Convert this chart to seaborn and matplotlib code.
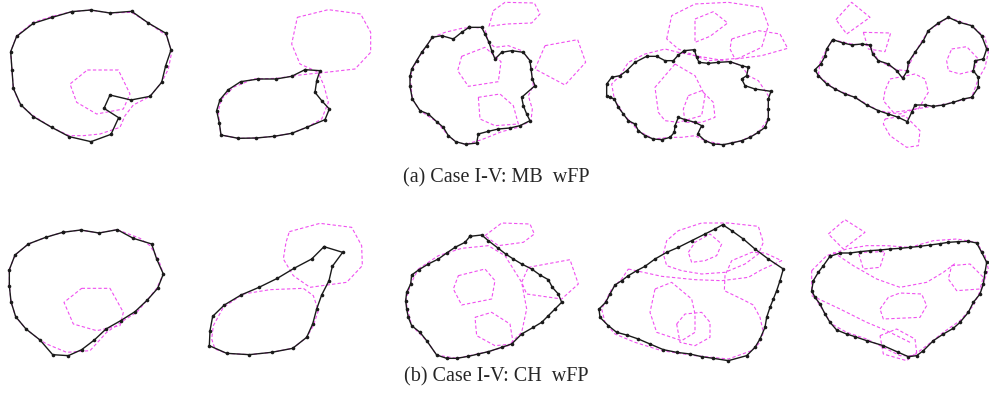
import matplotlib.pyplot as plt
import numpy as np
import pandas as pd
import seaborn as sns

# vertex data, in panel-local units (3 units = 1 px)
# ---- row (a): MB result ----
mb_1 = [(215,38),(272,33),(330,42),(395,37),(445,72),(498,103),(513,153),(497,200),(485,250),(450,292),
        (393,303),(330,288),(312,328),(356,356),(333,406),(273,428),(208,413),(155,385),(100,353),(62,317),
        (40,268),(36,213),(32,158),(50,112),(100,73),(157,55)]
mb_2 = [(315,212),(360,215),(350,245),(345,280),(365,305),(388,330),(375,362),(320,385),(275,403),(222,412),
        (168,417),(115,418),(63,408),(58,372),(50,335),(60,302),(85,272),(122,248),(175,240),(228,240),(275,232)]
mb_3 = [(222,85),(260,85),(270,105),(282,130),(290,155),(300,180),(320,160),(350,155),(385,160),(405,185),
        (408,210),(412,240),(420,260),(380,295),(385,320),(395,345),(405,365),(375,380),(345,387),(310,390),
        (280,397),(250,405),(245,432),(212,436),(182,428),(160,410),(145,385),(125,368),(100,345),(75,335),
        (52,300),(45,262),(45,232),(50,210),(65,185),(80,160),(95,140),(112,115),(140,110),(175,120),(200,100)]
mb_4 = [(268,155),(298,152),(305,175),(312,190),(340,193),(370,190),(405,188),(440,200),(460,205),(455,230),
        (440,240),(450,260),(480,270),(528,277),(520,300),(520,330),(520,360),(510,385),(490,400),(465,415),
        (440,425),(410,432),(385,437),(355,435),(330,425),(308,405),(320,380),(300,370),(270,362),(250,355),
        (240,380),(238,400),(225,415),(200,422),(175,420),(150,410),(130,395),(120,375),(100,365),(85,345),
        (70,325),(58,300),(45,295),(35,290),(35,255),(50,235),(75,230),(95,215),(120,190),(155,172),(185,172),
        (210,185),(235,185),(250,168)]
mb_5 = [(98,122),(130,132),(155,138),(185,135),(210,138),(218,165),(235,185),(265,195),(290,215),(308,238),
        (322,215),(325,190),(345,160),(370,125),(385,95),(415,72),(445,55),(478,70),(515,80),(545,110),
        (560,150),(550,180),(525,185),(520,215),(535,235),(535,265),(515,295),(490,300),(460,310),(430,318),
        (400,322),(375,318),(345,318),(335,340),(322,368),(295,355),(265,345),(235,335),(200,318),(165,295),
        (135,285),(105,270),(80,255),(55,230),(45,212),(62,195),(75,172),(80,150)]

# ---- row (b): CH result ----
ch_1 = [(188,100),(242,93),(297,102),(352,92),(400,118),(455,135),(470,180),(490,225),(473,268),(442,303),
        (405,338),(362,365),(318,390),(283,423),(245,452),(205,470),(158,467),(120,423),(78,390),(47,353),
        (33,308),(28,260),(28,212),(45,168),(85,135),(137,115)]
ch_2 = [(372,143),(428,160),(397,202),(387,245),(365,288),(350,330),(338,375),(320,415),(278,448),(215,460),
        (148,467),(80,463),(28,440),(30,395),(38,352),(73,318),(123,288),(177,265),(232,238),(282,208),(335,180)]
ch_3 = [(225,112),(260,108),(280,125),(310,148),(332,165),(355,180),(380,195),(410,210),(435,228),(460,242),
        (472,265),(490,285),(500,310),(480,330),(460,350),(440,370),(415,385),(380,405),(350,435),(320,445),
        (280,458),(250,465),(220,472),(185,478),(155,478),(125,468),(95,425),(75,400),(50,380),(40,355),
        (35,330),(32,305),(35,280),(47,255),(50,228),(72,212),(100,195),(130,180),(155,162),(180,145),(210,130)]
ch_4 = [(383,77),(410,95),(445,120),(480,150),(520,180),(565,210),(555,245),(545,275),(535,300),(525,325),
        (515,355),(510,385),(495,420),(480,445),(455,470),(400,485),(355,478),(320,473),(285,465),(245,460),
        (205,452),(165,435),(130,420),(95,408),(65,400),(40,380),(15,355),(12,330),(32,310),(45,285),(60,258),
        (80,245),(100,230),(125,215),(150,202),(180,180),(215,160),(250,145),(290,125),(330,105),(360,90)]
ch_5 = [(90,172),(120,162),(150,162),(180,158),(210,155),(240,153),(270,150),(300,148),(330,145),(360,142),
        (390,138),(420,134),(445,130),(475,128),(505,127),(530,132),(545,160),(560,190),(555,220),(550,255),
        (540,285),(520,310),(505,340),(480,370),(460,388),(430,405),(400,425),(370,455),(350,470),(325,473),
        (295,460),(250,440),(200,425),(165,413),(140,405),(110,393),(90,370),(75,345),(60,315),(45,295),
        (35,275),(40,245),(55,220),(70,200)]

# ---- ground truth outlines (magenta) ----
gt_a1 = [
    [(215,38),(272,33),(330,42),(395,40),(445,72),(500,110),(515,160),(505,210),(485,250),(450,292),(400,318),
     (375,350),(360,385),(300,405),(250,410),(208,410),(155,385),(100,350),(60,317),(40,268),(36,213),(32,158),
     (50,110),(100,70),(157,52)],
    [(262,213),(355,213),(390,285),(370,330),(290,345),(230,310),(210,255)]]
gt_a2 = [
    [(292,55),(385,32),(482,45),(512,100),(512,160),(465,210),(360,222),(300,195),(275,135)],
    [(65,300),(100,265),(160,240),(230,238),(300,228),(355,222),(372,260),(385,310),(365,360),(320,385),
     (275,403),(222,412),(168,417),(115,418),(63,408),(58,372),(55,335)]]
gt_a3 = [
    [(295,35),(330,10),(418,12),(435,45),(410,72),(335,75),(282,82)],
    [(450,140),(548,122),(572,190),(510,258),(420,210)],
    [(200,172),(270,145),(318,188),(310,248),(220,262),(188,215)],
    [(250,295),(315,285),(355,320),(370,375),(300,380),(255,360)],
    [(112,115),(150,100),(200,88),(240,85),(270,90),(280,130),(300,145),(340,140),(380,155),(405,185),
     (415,260),(400,290),(412,330),(408,365),(370,385),(320,398),(260,422),(212,436),(182,428),(160,410),
     (125,368),(75,335),(52,300),(45,232),(65,185),(95,140)]]
gt_a4 = [
    [(215,120),(230,50),(300,15),(400,10),(500,25),(520,80),(500,145),(430,178),(340,185),(300,170),(250,150)],
    [(300,60),(355,38),(398,72),(345,112),(300,130)],
    [(410,120),(490,95),(555,105),(578,148),(500,170),(420,180),(405,150)],
    [(240,195),(300,230),(330,290),(320,350),(250,370),(210,365),(190,340),(180,265)],
    [(280,290),(320,275),(355,310),(360,355),(320,370),(270,370),(265,330)],
    [(75,230),(100,190),(150,165),(210,150),(250,160),(300,170),(405,188),(440,200),(460,230),(490,245),
     (520,290),(520,360),(490,400),(440,425),(385,437),(330,425),(300,410),(260,415),(225,415),(175,420),
     (130,395),(85,345),(58,300),(50,255)]]
gt_a5 = [
    [(108,62),(155,10),(210,55),(140,105)],
    [(190,100),(272,102),(255,158),(205,150)],
    [(455,150),(500,143),(535,180),(520,215),(480,225),(445,215),(440,185)],
    [(270,240),(345,225),(375,240),(385,280),(355,330),(280,340),(250,305),(255,275)],
    [(255,360),(315,350),(360,395),(355,440),(320,445),(270,410),(250,375)],
    [(98,122),(155,135),(210,140),(235,185),(290,212),(320,215),(345,160),(385,95),(445,55),(515,80),
     (555,115),(565,160),(555,205),(535,240),(515,295),(460,310),(400,322),(345,330),(300,345),(235,335),
     (165,295),(105,270),(55,230),(60,190),(75,160)]]

gt_b1 = [
    [(188,100),(242,93),(297,102),(352,92),(420,118),(450,140),(475,180),(490,225),(470,268),(442,303),
     (410,340),(370,365),(320,400),(270,455),(200,460),(140,435),(120,423),(78,390),(47,353),(33,308),
     (28,260),(28,212),(45,168),(85,135),(137,115)],
    [(245,268),(330,268),(370,340),(360,380),(290,395),(220,375),(192,310)]]
gt_b2 = [
    [(268,98),(360,73),(455,85),(485,140),(487,200),(440,250),(330,265),(280,230),(250,180),(258,130)],
    [(40,380),(70,325),(130,285),(210,272),(310,268),(340,290),(355,335),(340,380),(320,415),(278,448),
     (215,460),(148,467),(80,463),(45,450),(35,420)]]
gt_b3 = [
    [(270,110),(320,72),(405,75),(418,105),(385,130),(310,140)],
    [(400,205),(525,182),(550,255),(500,300),(395,285),(380,250)],
    [(190,230),(270,210),(300,245),(290,300),(200,318),(175,270)],
    [(240,355),(290,340),(345,375),(355,435),(300,440),(245,410)],
    [(70,210),(130,170),(200,148),(280,140),(330,170),(380,250),(395,330),(380,400),(340,440),(280,458),
     (185,478),(125,468),(95,425),(50,380),(32,305),(47,255)]]
gt_b4 = [
    [(205,165),(215,125),(250,95),(320,72),(400,72),(490,82),(505,130),(490,165),(450,195),(390,220),
     (320,225),(260,215),(215,200)],
    [(280,160),(300,130),(345,105),(380,135),(365,170),(330,185),(290,190)],
    [(180,270),(230,250),(290,300),(300,345),(300,400),(260,425),(185,400),(165,340)],
    [(245,375),(270,345),(320,340),(345,370),(345,415),(300,440),(255,430)],
    [(100,210),(200,232),(300,242),(380,245),(460,235),(500,212),(560,185),(510,162),(470,160),(410,185),
     (390,230),(388,275),(440,300),(475,318),(495,355),(505,400),(495,430),(470,455),(400,480),(300,470),
     (200,455),(120,430),(60,405),(30,370),(20,330),(50,270),(80,240)]]
gt_b5 = [
    [(85,105),(135,62),(195,100),(130,150)],
    [(175,160),(255,158),(240,205),(190,210)],
    [(455,200),(510,195),(550,235),(540,270),(470,275),(445,240)],
    [(240,330),(265,295),(300,282),(365,285),(380,320),(360,355),(250,360)],
    [(240,410),(290,390),(345,420),(350,460),(320,485),(250,465)],
    [(35,215),(80,170),(140,150),(200,140),(260,140),(330,145),(400,125),(470,120),(530,130),(555,170),
     (565,210),(548,260),(520,320),(480,365),(430,400),(380,440),(340,470),(300,470),(250,445),(200,420),
     (140,400),(95,375),(60,320),(35,280)],
    [(100,160),(160,200),(230,240),(300,265),(380,250),(430,220),(470,190)],
    [(35,290),(120,330),(200,370),(260,395),(330,430)]]

captions = ["(a) Case I-V: MB  wFP", "(b) Case I-V: CH  wFP"]

# panel boxes in pixels (x, y, w, h) of the 989x402 canvas
W, H = 989, 402
boxes_a = [(0, 0, 190, 150), (200, 0, 190, 150), (395, 0, 200, 150), (595, 0, 200, 155), (800, 0, 189, 155)]
boxes_b = [(0, 200, 190, 165), (200, 200, 190, 165), (395, 200, 200, 165), (595, 200, 200, 165), (800, 200, 189, 165)]

sns.set_theme(style="white")
plt.rcParams['font.family'] = ['Liberation Serif', 'DejaVu Serif']
fig = plt.figure(figsize=(W / 100, H / 100), dpi=100)


def closed(pts):
    pts = list(pts) + [pts[0]]
    return pd.DataFrame(pts, columns=["x", "y"])


def draw_panel(box, result, truths, open_last=0):
    x, y, w, h = box
    ax = fig.add_axes([x / W, 1 - (y + h) / H, w / W, h / H])
    for i, poly in enumerate(truths):
        df = closed(poly)
        if i >= len(truths) - open_last:
            df = df.iloc[:-1]
        sns.lineplot(data=df, x="x", y="y", sort=False, estimator=None, ax=ax,
                     color="#f050f0", lw=0.8, dashes=False, linestyle=(0, (3, 2)))
    sns.lineplot(data=closed(result), x="x", y="y", sort=False, estimator=None, ax=ax,
                 color="#1a1a1a", lw=1.0, marker="o", markersize=2.6, markeredgewidth=0)
    ax.set_xlim(0, 3 * w)
    ax.set_ylim(3 * h, 0)
    ax.axis("off")


for box, res, gts in zip(boxes_a, [mb_1, mb_2, mb_3, mb_4, mb_5], [gt_a1, gt_a2, gt_a3, gt_a4, gt_a5]):
    draw_panel(box, res, gts)
for k, (box, res, gts) in enumerate(zip(boxes_b, [ch_1, ch_2, ch_3, ch_4, ch_5], [gt_b1, gt_b2, gt_b3, gt_b4, gt_b5])):
    draw_panel(box, res, gts, open_last=2 if k == 4 else 0)

fig.text(496 / W, 1 - 178 / H, captions[0], ha="center", va="center", fontsize=14.5)
fig.text(496 / W, 1 - 377 / H, captions[1], ha="center", va="center", fontsize=14.5)

fig.savefig("out.png", dpi=100, facecolor="white")
